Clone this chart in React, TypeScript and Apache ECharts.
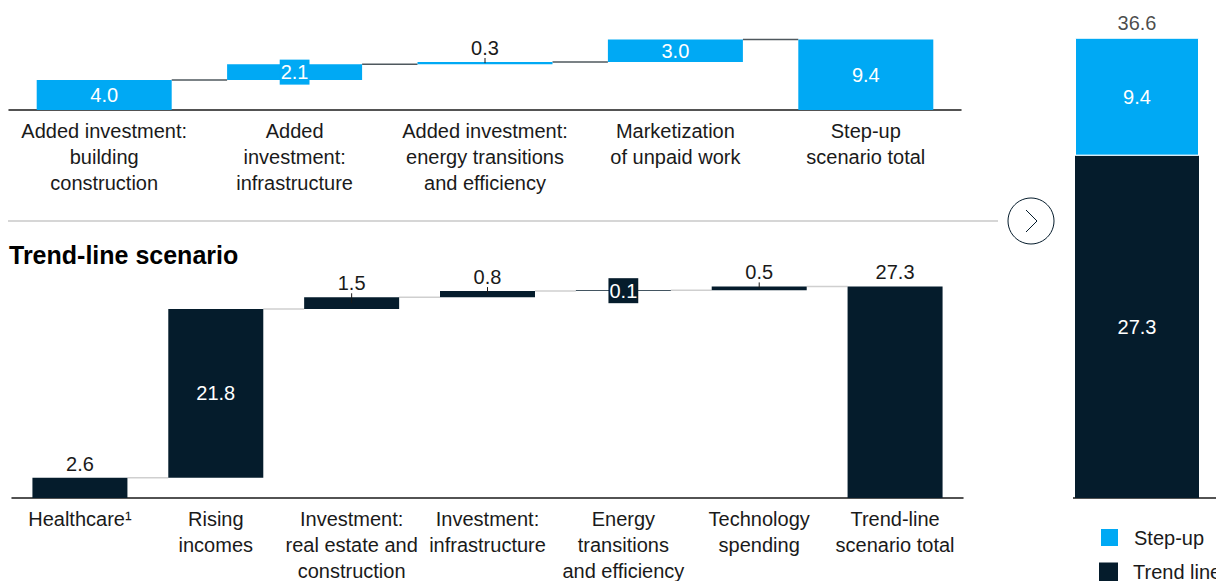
import React, { useEffect, useRef } from "react";
import * as echarts from "echarts";

// ---------- data ----------
const stepUpCategories = [
  "Added investment:\nbuilding\nconstruction",
  "Added\ninvestment:\ninfrastructure",
  "Added investment:\nenergy transitions\nand efficiency",
  "Marketization\nof unpaid work",
  "Step-up\nscenario total",
];
const stepUpValues = [4.0, 2.1, 0.3, 3.0, 9.4];

const trendCategories = [
  "Healthcare¹",
  "Rising\nincomes",
  "Investment:\nreal estate and\nconstruction",
  "Investment:\ninfrastructure",
  "Energy\ntransitions\nand efficiency",
  "Technology\nspending",
  "Trend-line\nscenario total",
];
const trendValues = [2.6, 21.8, 1.5, 0.8, 0.1, 0.5, 27.3];

const summaryCategory = ["Total"];
const summaryTrend = [27.3];
const summaryStepUp = [9.4];
const summaryTotal = [36.6];

// ---------- styles ----------
const NAVY = "#051c2c";
const BLUE = "#00a9f4";
const TEXT = "#1a1a1a";
const FONT = "'Liberation Sans', Arial, sans-serif";
const stepUpLabelPos = ["inside", "boxed", "top", "inside", "inside"];
const trendLabelPos = ["top", "inside", "top", "top", "boxed", "top", "top"];
const stepUpTicks = [2];
const trendTicks = [2, 3, 5];

function bases(values: number[]) {
  const out: number[] = [];
  let run = 0;
  values.forEach((v, i) => {
    if (i === values.length - 1) out.push(0);
    else {
      out.push(Math.round(run * 10) / 10);
      run += v;
    }
  });
  return out;
}

function labelFor(pos: string, color: string) {
  if (pos === "top")
    return { show: true, position: "top", distance: 4, color: TEXT };
  if (pos === "boxed")
    return {
      show: true,
      position: "inside",
      color: "#fff",
      backgroundColor: color,
      padding: [3, 1, 2, 1],
    };
  return { show: true, position: "inside", color: "#fff" };
}

function waterfallSeries(
  values: number[],
  positions: string[],
  ticks: number[],
  color: string,
  connColor: string,
  barW: number,
  gi: number
) {
  const base = bases(values);
  const conn: number[][] = [];
  for (let i = 0; i < values.length - 1; i++) {
    conn.push([i, Math.round((base[i] + values[i]) * 10) / 10]);
  }
  const tickData = ticks.map((i) => [i, base[i], values[i]]);
  return [
    {
      type: "bar",
      xAxisIndex: gi,
      yAxisIndex: gi,
      stack: "w" + gi,
      silent: true,
      barWidth: barW,
      itemStyle: { color: "transparent" },
      data: base,
    },
    {
      type: "bar",
      name: "wf" + gi,
      xAxisIndex: gi,
      yAxisIndex: gi,
      stack: "w" + gi,
      barWidth: barW,
      itemStyle: { color },
      label: {
        fontSize: 20,
        fontFamily: FONT,
        formatter: (p: any) => Number(p.value).toFixed(1),
      },
      data: values.map((v, i) => ({
        value: v,
        label: labelFor(positions[i], color),
      })),
    },
    {
      type: "custom",
      xAxisIndex: gi,
      yAxisIndex: gi,
      silent: true,
      z: 1,
      data: conn,
      renderItem: (params: any, api: any) => {
        const i = api.value(0);
        const lv = api.value(1);
        const p1 = api.coord([i, lv]);
        const p2 = api.coord([i + 1, lv]);
        return {
          type: "line",
          shape: { x1: p1[0] + barW / 2, y1: p1[1], x2: p2[0] - barW / 2, y2: p1[1] },
          style: { stroke: connColor, lineWidth: 1.5 },
        };
      },
    },
    {
      type: "custom",
      xAxisIndex: gi,
      yAxisIndex: gi,
      silent: true,
      z: 5,
      data: tickData,
      renderItem: (params: any, api: any) => {
        const i = api.value(0);
        const b = api.value(1);
        const v = api.value(2);
        const top = api.coord([i, b + v]);
        const mid = api.coord([i, b + v / 2]);
        return {
          type: "line",
          shape: { x1: top[0], y1: top[1] - 4, x2: top[0], y2: mid[1] },
          style: { stroke: TEXT, lineWidth: 1 },
        };
      },
    },
  ];
}

function catAxis(cats: string[], gi: number, showLine: boolean) {
  return {
    type: "category",
    gridIndex: gi,
    data: cats,
    axisTick: { show: false },
    axisLine: { show: showLine, lineStyle: { color: TEXT, width: 1.5 } },
    axisLabel: {
      show: showLine,
      interval: 0,
      margin: 8,
      fontSize: 20,
      lineHeight: 26,
      color: TEXT,
      fontFamily: FONT,
    },
  };
}

function valAxis(gi: number, max: number) {
  return {
    type: "value",
    gridIndex: gi,
    min: 0,
    max,
    show: false,
    splitLine: { show: false },
  };
}

function legendBox(name: string, top: number) {
  return {
    data: [name],
    left: 1099,
    top,
    padding: 0,
    itemWidth: 19,
    itemHeight: 19,
    icon: "rect",
    selectedMode: false,
    textStyle: { fontSize: 20, color: TEXT, fontFamily: FONT, padding: [0, 0, 0, 10] },
  };
}

export default function App() {
  const ref = useRef<HTMLDivElement>(null);
  useEffect(() => {
    if (!ref.current) return;
    const chart = echarts.init(ref.current, undefined, { renderer: "svg" });
    const option: any = {
      animation: false,
      textStyle: { fontFamily: FONT },
      title: {
        text: "Trend-line scenario",
        left: 9,
        top: 242,
        padding: 0,
        textStyle: { fontSize: 25, fontWeight: "bold", color: "#000", fontFamily: FONT },
      },
      legend: [legendBox("Step-up", 527), legendBox("Trend line", 562)],
      grid: [
        { left: 9, width: 952, top: 35, height: 75, outerBoundsMode: "none", containLabel: false },
        { left: 12, width: 951, top: 281, height: 217, outerBoundsMode: "none", containLabel: false },
        { left: 1073, width: 128, top: 34, height: 464, outerBoundsMode: "none", containLabel: false },
      ],
      xAxis: [
        catAxis(stepUpCategories, 0, true),
        catAxis(trendCategories, 1, true),
        catAxis(summaryCategory, 2, false),
      ],
      yAxis: [valAxis(0, 10), valAxis(1, 28), valAxis(2, 37)],
      series: [
        ...waterfallSeries(stepUpValues, stepUpLabelPos, stepUpTicks, BLUE, "#4f585e", 135, 0),
        ...waterfallSeries(trendValues, trendLabelPos, trendTicks, NAVY, "#cfcfcf", 95, 1),
        {
          type: "bar",
          name: "Trend line",
          xAxisIndex: 2,
          yAxisIndex: 2,
          stack: "sum",
          barWidth: 124,
          itemStyle: { color: NAVY },
          label: {
            show: true,
            position: "inside",
            color: "#fff",
            fontSize: 20,
            fontFamily: FONT,
            formatter: (p: any) => Number(p.value).toFixed(1),
          },
          data: summaryTrend,
        },
        {
          type: "bar",
          name: "Step-up",
          xAxisIndex: 2,
          yAxisIndex: 2,
          stack: "sum",
          barWidth: 124,
          itemStyle: { color: BLUE, borderColor: "#fff", borderWidth: 1 },
          label: {
            show: true,
            position: "inside",
            color: "#fff",
            fontSize: 20,
            fontFamily: FONT,
            formatter: (p: any) => Number(p.value).toFixed(1),
          },
          data: summaryStepUp,
        },
        {
          type: "scatter",
          xAxisIndex: 2,
          yAxisIndex: 2,
          symbolSize: 0,
          silent: true,
          label: {
            show: true,
            position: "top",
            distance: 6,
            color: TEXT,
            fontSize: 20,
            fontFamily: FONT,
            formatter: (p: any) => Number(p.value[1]).toFixed(1),
          },
          data: summaryTotal.map((v, i) => [i, v]),
        },
      ],
      graphic: [
        {
          type: "line",
          shape: { x1: 8, y1: 221, x2: 998, y2: 221 },
          style: { stroke: "#c8c8c8", lineWidth: 1.5 },
        },
        {
          type: "circle",
          shape: { cx: 1031, cy: 221, r: 23 },
          style: { fill: "none", stroke: NAVY, lineWidth: 1 },
        },
        {
          type: "polyline",
          shape: { points: [[1026, 210], [1037, 221], [1026, 232]] },
          style: { fill: "none", stroke: NAVY, lineWidth: 1 },
        },
        {
          type: "line",
          shape: { x1: 1073, y1: 498, x2: 1216, y2: 498 },
          style: { stroke: TEXT, lineWidth: 1.5 },
        },
      ],
    };
    chart.setOption(option);
    return () => chart.dispose();
  }, []);
  return (
    <div
      ref={ref}
      style={{ position: "fixed", left: 0, top: 0, width: 1216, height: 581, background: "#fff" }}
    />
  );
}
